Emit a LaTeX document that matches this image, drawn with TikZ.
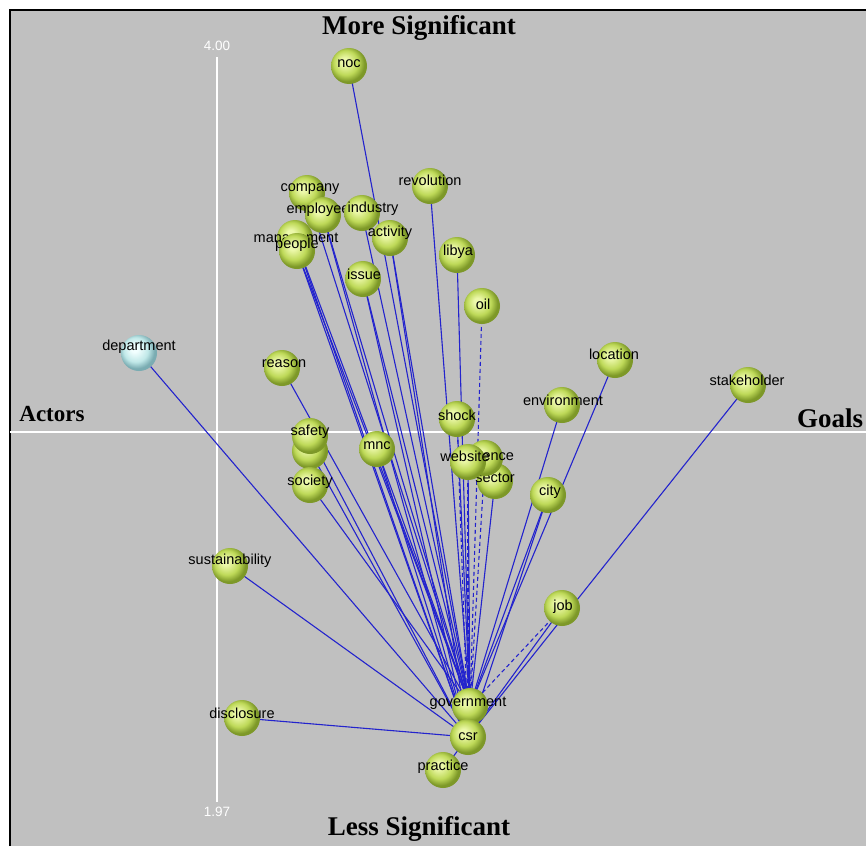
\documentclass[tikz,border=0pt]{standalone}
\usepackage{fontspec}
\setmainfont{Liberation Serif}
\setsansfont{Liberation Sans}

\definecolor{panel}{RGB}{192,192,192}
\definecolor{linkblue}{RGB}{35,35,205}
\definecolor{gHi}{RGB}{236,248,170}
\definecolor{gMid}{RGB}{190,217,88}
\definecolor{gEdge}{RGB}{125,152,40}
\definecolor{cHi}{RGB}{242,255,255}
\definecolor{cMid}{RGB}{192,232,232}
\definecolor{cEdge}{RGB}{122,172,178}

\pgfdeclareradialshading{greenball}{\pgfqpoint{-7bp}{7bp}}{%
  color(0bp)=(gHi); color(5bp)=(gHi); color(17bp)=(gMid);
  color(25bp)=(gEdge); color(50bp)=(gEdge)}
\pgfdeclareradialshading{cyanball}{\pgfqpoint{-7bp}{7bp}}{%
  color(0bp)=(cHi); color(5bp)=(cHi); color(17bp)=(cMid);
  color(25bp)=(cEdge); color(50bp)=(cEdge)}

\pgfdeclarelayer{panellayer}
\pgfdeclarelayer{edgelayer}
\pgfsetlayers{panellayer,edgelayer,main}

\tikzset{
  link/.style={draw=linkblue, line width=1.1pt},
  softlink/.style={link, dash pattern=on 4pt off 3pt},
  topic/.style={circle, minimum size=36pt, inner sep=0pt, shade, shading=greenball},
  actor/.style={circle, minimum size=36pt, inner sep=0pt, shade, shading=cyanball},
  termtext/.style={font=\sffamily\fontsize{14.5}{14.5}\selectfont, text=black, inner sep=0pt},
  heading/.style={font=\bfseries\fontsize{27}{27}\selectfont, inner sep=0pt},
  sideheading/.style={font=\bfseries\fontsize{23}{23}\selectfont, inner sep=0pt},
  ticktext/.style={font=\sffamily\fontsize{13.5}{13.5}\selectfont, text=white, inner sep=0pt},
  axisline/.style={draw=white, line width=1.6pt}
}

\begin{document}
\begin{tikzpicture}[x=1pt,y=-1pt]
\useasboundingbox (0,0) rectangle (866,846);

% panel, frame and axes
\begin{pgfonlayer}{panellayer}
  \fill[white] (0,0) rectangle (866,846);
  \fill[panel] (10,10) rectangle (866,846);
  \draw[black, line width=2.5pt] (10,846) -- (10,10) -- (866,10);
  \draw[axisline] (10,432) -- (866,432);
  \draw[axisline] (217,57) -- (217,802);
\end{pgfonlayer}

\node[ticktext] (top-tick) at (217,46) {4.00};
\node[ticktext] (bottom-tick) at (217,812) {1.97};

\node[heading] (more) at (419,28) {More Significant};
\node[heading] (less) at (419,829) {Less Significant};
\node[sideheading] (actors) at (52,414) {Actors};
\node[heading, anchor=west] (goals) at (797,418) {Goals};

% terms: ball then its label
\node[topic] (noc) at (349,66) {};
\node[termtext] (noc-t) at (349,64) {noc};
\node[topic] (company) at (307,193) {};
\node[termtext] (company-t) at (310,189) {company};
\node[topic] (employee) at (323,215) {};
\node[termtext] (employee-t) at (318,210) {employee};
\node[topic] (industry) at (362,213) {};
\node[termtext] (industry-t) at (373,209) {industry};
\node[topic] (activity) at (390,238) {};
\node[termtext] (activity-t) at (390,233) {activity};
\node[topic] (management) at (295,238) {};
\node[termtext] (management-t) at (296,239) {management};
\node[topic] (people) at (297,251) {};
\node[termtext] (people-t) at (297,245) {people};
\node[topic] (revolution) at (430,186) {};
\node[termtext] (revolution-t) at (430,180) {revolution};
\node[topic] (libya) at (457,255) {};
\node[termtext] (libya-t) at (458,252) {libya};
\node[topic] (issue) at (363,279) {};
\node[termtext] (issue-t) at (364,274) {issue};
\node[topic] (oil) at (482,306) {};
\node[termtext] (oil-t) at (483,304) {oil};
\node[actor] (department) at (139,353) {};
\node[termtext] (department-t) at (139,347) {department};
\node[topic] (reason) at (282,368) {};
\node[termtext] (reason-t) at (284,364) {reason};
\node[topic] (location) at (615,360) {};
\node[termtext] (location-t) at (614,354) {location};
\node[topic] (stakeholder) at (748,385) {};
\node[termtext] (stakeholder-t) at (747,380) {stakeholder};
\node[topic] (environment) at (562,405) {};
\node[termtext] (environment-t) at (563,400) {environment};
\node[topic] (shock) at (457,419) {};
\node[termtext] (shock-t) at (457,415) {shock};
\node[topic] (safetyb) at (310,451) {};
\node[topic] (safety) at (310,436) {};
\node[termtext] (safety-t) at (310,432) {safety};
\node[topic] (society) at (310,485) {};
\node[termtext] (society-t) at (310,482) {society};
\node[topic] (mnc) at (377,449) {};
\node[termtext] (mnc-t) at (377,446) {mnc};
\node[topic] (sector) at (495,481) {};
\node[termtext] (sector-t) at (495,478) {sector};
\node[topic] (influence) at (485,458) {};
\node[termtext] (influence-t) at (485,455) {influence};
\node[topic] (website) at (468,462) {};
\node[termtext] (website-t) at (465,456) {website};
\node[topic] (city) at (548,495) {};
\node[termtext] (city-t) at (550,492) {city};
\node[topic] (sustainability) at (230,566) {};
\node[termtext] (sustainability-t) at (230,561) {sustainability};
\node[topic] (job) at (562,608) {};
\node[termtext] (job-t) at (563,607) {job};
\node[topic] (disclosure) at (242,718) {};
\node[termtext] (disclosure-t) at (242,713) {disclosure};
\node[topic] (government) at (470,706) {};
\node[termtext] (government-t) at (468,703) {government};
\node[topic] (practice) at (443,770) {};
\node[topic] (csr) at (468,737) {};
\node[termtext] (csr-t) at (468,737) {csr};
\node[termtext] (practice-t) at (443,767) {practice};

% links
\begin{pgfonlayer}{edgelayer}
  \foreach \src in {noc,company,employee,industry,activity,management,people,
                    revolution,libya,issue,reason,location,environment,shock,
                    society,mnc,sector,website,city}
    \draw[link] (\src.center) -- (government.center);
  \foreach \src in {employee,activity,management,people,issue,department,
                    stakeholder,safety,safetyb,mnc,city,sustainability,job,
                    disclosure}
    \draw[link] (\src.center) -- (csr.center);
  \draw[softlink] (oil.center) -- (government.center);
  \draw[softlink] (influence.center) -- (government.center);
  \draw[softlink] (website.center) -- (csr.center);
  \draw[softlink] (shock.center) -- (csr.center);
  \draw[softlink] (job.center) -- (government.center);
  \draw[link] (practice.center) -- (csr.center);
\end{pgfonlayer}
\end{tikzpicture}
\end{document}
